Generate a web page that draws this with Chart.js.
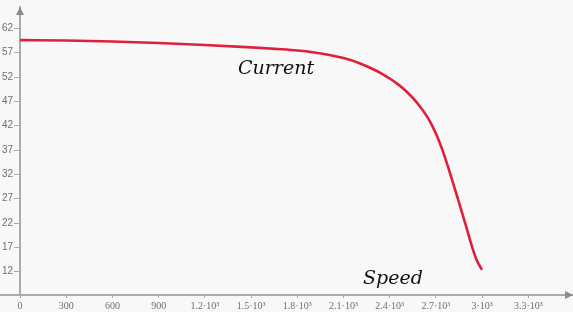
<!DOCTYPE html>
<html lang="en">
<head>
  <meta charset="UTF-8" />
  <title>Current vs Speed</title>
  <script src="https://cdn.jsdelivr.net/npm/chart.js"></script>
  <style>
    html, body { margin: 0; padding: 0; background: #f7f8f7; }
    #wrap { width: 573px; height: 312px; position: relative; }
  </style>
</head>
<body>
  <div id="wrap"><canvas id="plot"></canvas></div>

  <script>
    // values
    const speed   = [0, 300, 600, 900, 1200, 1500, 1700, 1800, 1900, 2000, 2100, 2200, 2300, 2350, 2400, 2450, 2500, 2550, 2600, 2650, 2700, 2750, 2800, 2850, 2900, 2925, 2950, 2975, 3000];
    const current = [59.6, 59.5, 59.3, 59.0, 58.6, 58.1, 57.7, 57.45, 57.1, 56.6, 55.9, 54.9, 53.5, 52.65, 51.7, 50.6, 49.3, 47.7, 45.8, 43.5, 40.4, 36.3, 31.4, 26.2, 20.9, 18.1, 15.6, 13.7, 12.4];

    const xTicks  = [0, 300, 600, 900, 1200, 1500, 1800, 2100, 2400, 2700, 3000, 3300];
    const xLabels = ['0', '300', '600', '900', '1.2·10³', '1.5·10³', '1.8·10³', '2.1·10³', '2.4·10³', '2.7·10³', '3·10³', '3.3·10³'];
    const yTicks  = [12, 17, 22, 27, 32, 37, 42, 47, 52, 57, 62];

    const axisGray = '#a9aaa9';

    const decor = {
      id: 'decor',
      afterDraw(chart) {
        const ctx = chart.ctx;
        const a = chart.chartArea;
        ctx.save();
        // x axis continues left of the y axis
        ctx.strokeStyle = axisGray;
        ctx.lineWidth = 2;
        ctx.beginPath();
        ctx.moveTo(0, a.bottom);
        ctx.lineTo(a.left, a.bottom);
        ctx.stroke();
        // arrow heads
        ctx.fillStyle = '#8a8b8a';
        ctx.beginPath();
        ctx.moveTo(a.left, a.top);
        ctx.lineTo(a.left - 4, a.top + 8);
        ctx.lineTo(a.left + 4, a.top + 8);
        ctx.closePath();
        ctx.fill();
        ctx.beginPath();
        ctx.moveTo(a.right, a.bottom);
        ctx.lineTo(a.right - 8, a.bottom - 4);
        ctx.lineTo(a.right - 8, a.bottom + 4);
        ctx.closePath();
        ctx.fill();
        // axis names
        ctx.fillStyle = '#111';
        ctx.font = 'italic 19px "DejaVu Serif", serif';
        ctx.textBaseline = 'alphabetic';
        ctx.fillText('Current', 238, 74);
        ctx.fillText('Speed', 363, 284);
        ctx.restore();
      }
    };

    new Chart(document.getElementById('plot'), {
      type: 'line',
      data: {
        datasets: [{
          data: speed.map((s, i) => ({ x: s, y: current[i] })),
          borderColor: '#e01f3d',
          borderWidth: 2.6,
          pointRadius: 0,
          cubicInterpolationMode: 'monotone',
          fill: false
        }]
      },
      options: {
        responsive: true,
        maintainAspectRatio: false,
        animation: false,
        layout: { padding: 0 },
        plugins: { legend: { display: false }, tooltip: { enabled: false } },
        scales: {
          x: {
            type: 'linear',
            min: 0,
            max: 3590,
            afterBuildTicks: s => { s.ticks = xTicks.map(v => ({ value: v })); },
            afterFit: s => { s.height = 17; },
            border: { color: axisGray, width: 2 },
            grid: { drawOnChartArea: false, drawTicks: true, tickLength: 3, color: axisGray },
            ticks: {
              autoSkip: false,
              maxRotation: 0,
              padding: 2,
              color: '#6e6f6e',
              font: { family: '"Liberation Serif", serif', size: 10 },
              callback: v => xLabels[xTicks.indexOf(v)]
            }
          },
          y: {
            type: 'linear',
            min: 7.2,
            max: 66.4,
            afterBuildTicks: s => { s.ticks = yTicks.map(v => ({ value: v })); },
            afterFit: s => { s.width = 20; },
            border: { color: axisGray, width: 2 },
            grid: { drawOnChartArea: false, drawTicks: true, tickLength: 6, color: axisGray },
            ticks: {
              autoSkip: false,
              padding: 1,
              color: '#6e6f6e',
              font: { family: '"Liberation Sans", sans-serif', size: 10 }
            }
          }
        }
      },
      plugins: [decor]
    });
  </script>
</body>
</html>
